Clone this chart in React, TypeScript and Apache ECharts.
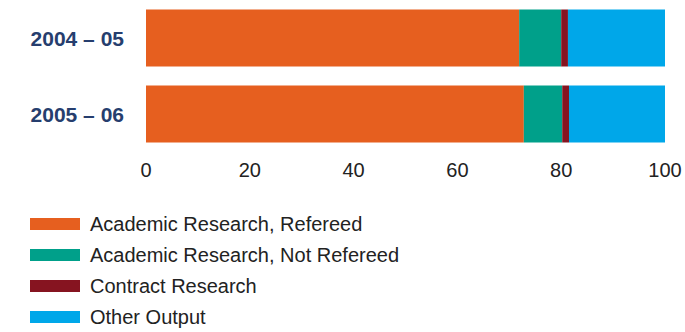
import React, { useEffect, useRef } from "react";
import * as echarts from "echarts";

const categories = ["2004 – 05", "2005 – 06"];
const seriesNames = [
  "Academic Research, Refereed",
  "Academic Research, Not Refereed",
  "Contract Research",
  "Other Output",
];
const refereed = [71.9, 72.8];
const notRefereed = [8.1, 7.4];
const contract = [1.3, 1.3];
const other = [18.7, 18.5];
const xTicks = [0, 20, 40, 60, 80, 100];

const colors = ["#E65F1F", "#00A08A", "#861420", "#00A7E9"];
const FONT = "'Liberation Sans', Arial, Helvetica, sans-serif";

export default function App() {
  const ref = useRef<HTMLDivElement>(null);
  useEffect(() => {
    if (!ref.current) return;
    const chart = echarts.init(ref.current, undefined, { renderer: "svg" });
    const values = [refereed, notRefereed, contract, other];
    chart.setOption({
      animation: false,
      textStyle: { fontFamily: FONT },
      grid: { left: 146, right: 20, top: -2, height: 154, containLabel: false },
      xAxis: {
        type: "value",
        min: xTicks[0],
        max: xTicks[xTicks.length - 1],
        interval: 20,
        axisLine: { show: false },
        axisTick: { show: false },
        splitLine: { show: false },
        axisLabel: { color: "#222", fontSize: 20, margin: 8, fontFamily: FONT },
      },
      yAxis: {
        type: "category",
        data: categories,
        inverse: true,
        axisLine: { show: false },
        axisTick: { show: false },
        axisLabel: {
          color: "#263E6E",
          fontSize: 21,
          fontWeight: "bold",
          margin: 22,
          fontFamily: FONT,
        },
      },
      legend: {
        orient: "vertical",
        left: 30,
        top: 214,
        padding: 0,
        itemWidth: 50,
        itemHeight: 12,
        itemGap: 11,
        icon: "rect",
        selectedMode: false,
        textStyle: { color: "#222", fontSize: 20, lineHeight: 20, padding: [0, 0, 0, 5], fontFamily: FONT },
        data: seriesNames,
      },
      series: seriesNames.map((name, i) => ({
        name,
        type: "bar",
        stack: "total",
        barWidth: 57,
        itemStyle: { color: colors[i] },
        data: values[i],
      })),
    });
    return () => chart.dispose();
  }, []);
  return (
    <div
      ref={ref}
      style={{ position: "absolute", left: 0, top: 0, width: 685, height: 332 }}
    />
  );
}
